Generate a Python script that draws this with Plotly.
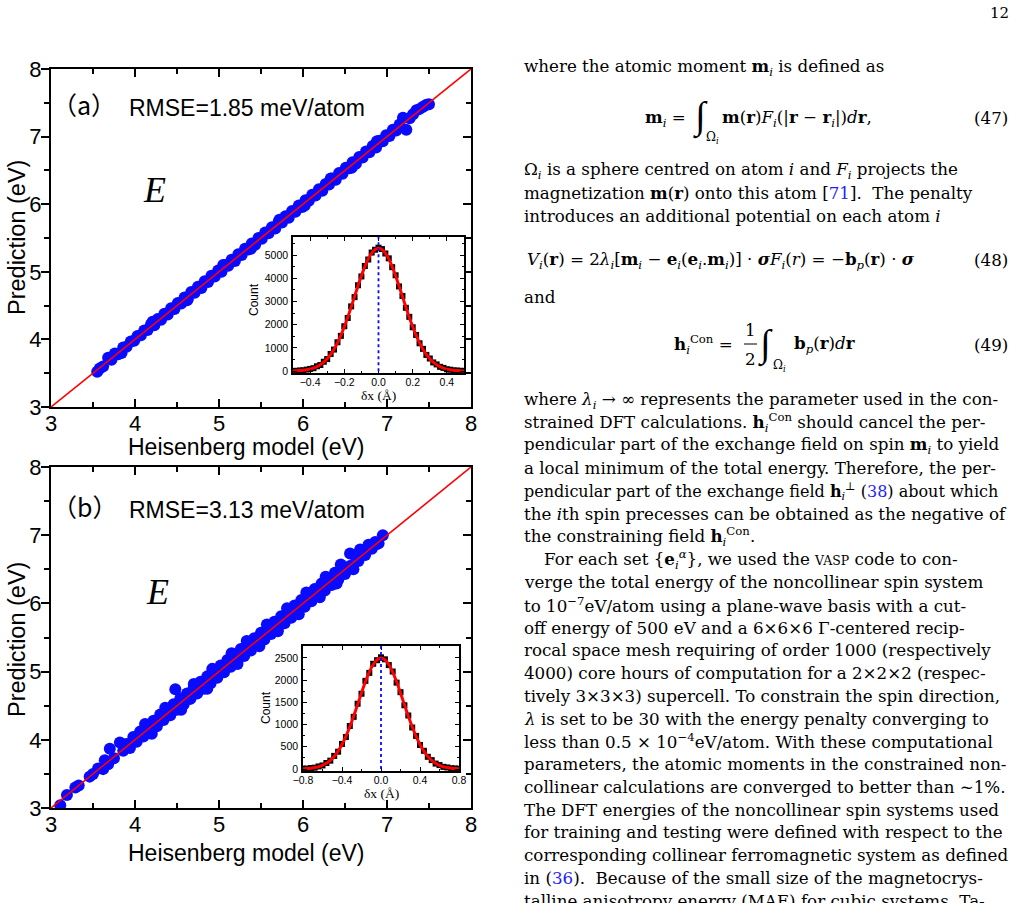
import plotly.graph_objects as go

W, H = 1019, 903

# ---------------- data ----------------
heis_a = [3.55,3.58,3.62,3.68,3.72,3.76,3.80,3.84,3.86,3.90,3.95,3.99,4.03,4.07,4.11,4.15,4.19,4.23,4.27,4.31,
          4.35,4.39,4.43,4.47,4.51,4.55,4.59,4.63,4.67,4.71,4.75,4.79,4.83,4.87,4.91,4.95,4.99,5.03,5.07,5.11,
          5.15,5.19,5.23,5.27,5.31,5.35,5.39,5.43,5.47,5.51,5.55,5.59,5.63,5.67,5.71,5.75,5.79,5.83,5.87,5.91,
          5.95,5.99,6.03,6.07,6.11,6.15,6.19,6.23,6.27,6.31,6.35,6.39,6.43,6.47,6.51,6.55,6.59,6.63,6.67,6.71,
          6.75,6.79,6.83,6.87,6.91,6.95,6.99,7.03,7.07,7.11,7.15,7.19,7.23,7.27,7.31,7.35,7.39,7.43,7.47,7.50,
          4.21,4.62,5.05,5.38,5.72,6.02,6.33,6.58,6.88]
pred_a = [3.52,3.57,3.60,3.73,3.70,3.79,3.78,3.80,3.88,3.89,3.97,3.98,4.05,4.06,4.13,4.14,4.22,4.21,4.30,4.29,
          4.38,4.37,4.46,4.45,4.54,4.53,4.62,4.60,4.70,4.69,4.78,4.76,4.86,4.85,4.94,4.93,5.02,5.00,5.10,5.09,
          5.18,5.16,5.26,5.25,5.34,5.33,5.42,5.40,5.50,5.49,5.58,5.57,5.66,5.64,5.74,5.73,5.82,5.80,5.90,5.89,
          5.98,5.96,6.06,6.05,6.14,6.13,6.22,6.20,6.30,6.29,6.38,6.36,6.46,6.45,6.54,6.53,6.62,6.60,6.70,6.69,
          6.78,6.77,6.86,6.84,6.94,6.93,7.02,7.01,7.10,7.09,7.18,7.28,7.10,7.27,7.33,7.39,7.41,7.44,7.47,7.48,
          4.26,4.58,5.10,5.34,5.77,5.98,6.38,6.54,6.93]

heis_b = [3.11,3.19,3.29,3.33,3.46,3.50,3.56,3.62,3.64,3.68,3.70,3.75,3.82,3.86,3.90,3.94,3.98,4.02,4.06,4.10,
          4.14,4.18,4.22,4.26,4.30,4.34,4.38,4.42,4.46,4.48,4.50,4.54,4.58,4.62,4.66,4.70,4.74,4.78,4.82,4.86,
          4.90,4.94,4.98,5.02,5.06,5.10,5.14,5.18,5.22,5.26,5.30,5.34,5.38,5.42,5.46,5.50,5.54,5.58,5.62,5.66,
          5.70,5.74,5.78,5.82,5.86,5.90,5.94,5.98,6.02,6.06,6.10,6.14,6.18,6.22,6.26,6.30,6.34,6.38,6.42,6.46,
          6.50,6.56,6.58,6.62,6.66,6.70,6.74,6.78,6.82,6.86,6.90,6.95,
          3.92,4.00,4.08,4.16,4.24,4.32,4.40,4.48,4.56,4.64,4.72,4.80,4.88,4.96,5.04,5.12,5.20,5.28,5.36,5.44,
          5.52,5.60,5.68,5.76,5.84,5.92,6.00,6.08,6.16,6.24,6.32,6.40,6.48,6.56,6.64,6.72,6.80,6.88,
          4.12,4.36,4.70,4.92,5.15,5.33,5.57,5.81,6.04,6.27,6.45,6.68,
          4.20,4.55,4.86,5.22,5.48,5.70,5.95,6.20,6.40,6.60]
pred_b = [3.04,3.19,3.30,3.33,3.46,3.50,3.58,3.57,3.70,3.64,3.87,3.73,3.96,3.84,3.94,3.88,4.04,3.97,4.12,4.05,
          4.20,4.12,4.28,4.20,4.37,4.29,4.44,4.36,4.52,4.74,4.44,4.61,4.52,4.68,4.60,4.77,4.68,4.85,4.75,4.93,
          4.83,5.01,4.91,5.09,4.99,5.17,5.07,5.25,5.15,5.33,5.23,5.41,5.31,5.49,5.39,5.57,5.47,5.65,5.55,5.73,
          5.63,5.81,5.71,5.89,5.79,5.97,5.87,6.05,5.95,6.13,6.03,6.21,6.11,6.29,6.19,6.37,6.27,6.45,6.35,6.53,
          6.43,6.73,6.55,6.70,6.62,6.78,6.71,6.86,6.80,6.90,6.88,7.00,
          3.93,3.99,4.09,4.15,4.25,4.31,4.41,4.47,4.57,4.63,4.73,4.79,4.89,4.95,5.05,5.11,5.21,5.27,5.37,5.43,
          5.53,5.59,5.69,5.75,5.85,5.91,6.01,6.07,6.17,6.23,6.33,6.39,6.49,6.55,6.65,6.71,6.81,6.87,
          4.23,4.47,4.82,5.04,5.27,5.45,5.69,5.93,6.16,6.39,6.57,6.79,
          4.09,4.44,4.75,5.11,5.37,5.59,5.84,6.09,6.29,6.50]

diag = [3, 8]

dx_a = [-0.50,-0.48,-0.46,-0.44,-0.42,-0.40,-0.38,-0.36,-0.34,-0.32,-0.30,-0.28,-0.26,-0.24,-0.22,-0.20,-0.18,
        -0.16,-0.14,-0.12,-0.10,-0.08,-0.06,-0.04,-0.02,0.00,0.02,0.04,0.06,0.08,0.10,0.12,0.14,0.16,0.18,0.20,
        0.22,0.24,0.26,0.28,0.30,0.32,0.34,0.36,0.38,0.40,0.42,0.44,0.46,0.48,0.50]
count_a = [12,10,30,35,66,95,128,210,265,405,520,740,930,1245,1520,1935,2290,2790,3190,3700,4080,4530,4810,5110,5230,
           5320,5260,5070,4860,4480,4130,3650,3240,2730,2340,1890,1560,1200,960,700,545,375,290,185,140,82,62,33,27,13,11]
fit_a = [9,15,24,38,59,89,133,194,278,389,534,717,945,1219,1542,1910,2319,2758,3215,3671,4107,4501,4835,5088,5246,
         5300,5246,5088,4835,4501,4107,3671,3215,2758,2319,1910,1542,1219,945,717,534,389,278,194,133,89,59,38,24,15,9]

dx_b = [-0.80,-0.76,-0.72,-0.68,-0.64,-0.60,-0.56,-0.52,-0.48,-0.44,-0.40,-0.36,-0.32,-0.28,-0.24,-0.20,-0.16,-0.12,
        -0.08,-0.04,0.00,0.04,0.08,0.12,0.16,0.20,0.24,0.28,0.32,0.36,0.40,0.44,0.48,0.52,0.56,0.60,0.64,0.68,0.72,0.76,0.80]
count_b = [8,9,22,30,58,80,135,188,295,390,565,720,968,1175,1470,1695,1985,2165,2370,2450,
           2515,2470,2340,2195,1945,1730,1435,1205,935,745,540,410,275,200,122,88,48,35,17,13,5]
fit_b = [6,11,19,32,52,83,129,194,283,401,551,734,950,1192,1450,1713,1963,2182,2353,2462,
         2500,2462,2353,2182,1963,1713,1450,1192,950,734,551,401,283,194,129,83,52,32,19,11,6]

main_ticks = [3, 4, 5, 6, 7, 8]
inset_a_xticks = [-0.4, -0.2, 0.0, 0.2, 0.4]
inset_a_yticks = [0, 1000, 2000, 3000, 4000, 5000]
inset_b_xticks = [-0.8, -0.4, 0.0, 0.4, 0.8]
inset_b_yticks = [0, 500, 1000, 1500, 2000, 2500]

# ---------------- helpers ----------------
def px_x(p): return p / W
def px_y(p): return 1 - p / H

BLUE = "#0a0aff"
RED = "#ff0000"
SANS = "Liberation Sans, Arial, sans-serif"
SERIF = "DejaVu Serif, serif"
SERIF2 = "Liberation Serif, Times New Roman, serif"

fig = go.Figure()

fig.add_trace(go.Scatter(x=heis_a, y=pred_a, mode="markers", xaxis="x", yaxis="y",
                         marker=dict(color=BLUE, size=12, line=dict(width=0)), showlegend=False))
fig.add_trace(go.Scatter(x=diag, y=diag, mode="lines", xaxis="x", yaxis="y",
                         line=dict(color=RED, width=1.6), showlegend=False))
fig.add_trace(go.Scatter(x=[None], y=[None], xaxis="x", yaxis="y2", showlegend=False))
fig.add_trace(go.Scatter(x=dx_a, y=count_a, mode="markers", xaxis="x2", yaxis="y3",
                         marker=dict(color="black", size=6, symbol="square"), showlegend=False))
fig.add_trace(go.Scatter(x=dx_a, y=fit_a, mode="lines", xaxis="x2", yaxis="y3", line_shape="spline",
                         line=dict(color=RED, width=3), showlegend=False))
fig.add_trace(go.Scatter(x=heis_b, y=pred_b, mode="markers", xaxis="x3", yaxis="y4",
                         marker=dict(color=BLUE, size=12, line=dict(width=0)), showlegend=False))
fig.add_trace(go.Scatter(x=diag, y=diag, mode="lines", xaxis="x3", yaxis="y4",
                         line=dict(color=RED, width=1.6), showlegend=False))
fig.add_trace(go.Scatter(x=[None], y=[None], xaxis="x3", yaxis="y5", showlegend=False))
fig.add_trace(go.Scatter(x=dx_b, y=count_b, mode="markers", xaxis="x4", yaxis="y6",
                         marker=dict(color="black", size=6, symbol="square"), showlegend=False))
fig.add_trace(go.Scatter(x=dx_b, y=fit_b, mode="lines", xaxis="x4", yaxis="y6", line_shape="spline",
                         line=dict(color=RED, width=3), showlegend=False))

common = dict(showgrid=False, zeroline=False, showline=True, linecolor="black", tickcolor="black",
              automargin=False)

def main_x(anchor, dom):
    return dict(common, domain=dom, anchor=anchor, range=[3, 8], tickvals=main_ticks,
                ticks="inside", ticklen=8, tickwidth=1.5, linewidth=2, mirror="ticks",
                minor=dict(dtick=0.5, tick0=3, ticks="inside", ticklen=5, tickwidth=1.5, tickcolor="black"),
                tickfont=dict(family=SANS, size=22, color="black"), ticklabelstandoff=-4)

def main_y(anchor, dom):
    return dict(common, domain=dom, anchor=anchor, range=[3, 8], tickvals=main_ticks,
                ticks="outside", ticklen=8, tickwidth=1.5, linewidth=2, mirror=False,
                minor=dict(dtick=0.5, tick0=3, ticks="outside", ticklen=5, tickwidth=1.5, tickcolor="black"),
                tickfont=dict(family=SANS, size=22, color="black"), ticklabelstandoff=-5)

def right_y(over, anchor):
    return dict(common, overlaying=over, anchor=anchor, side="right", range=[3, 8], tickvals=main_ticks,
                ticks="inside", ticklen=8, tickwidth=1.5, linewidth=2, showticklabels=False,
                minor=dict(dtick=0.5, tick0=3, ticks="inside", ticklen=5, tickwidth=1.5, tickcolor="black"))

def inset_x(anchor, dom, rng, tv, mdt):
    return dict(common, domain=dom, anchor=anchor, range=rng, tickvals=tv, tickformat=".1f",
                ticks="inside", ticklen=4, tickwidth=1, linewidth=1.5, mirror="ticks",
                minor=dict(dtick=mdt, ticks="inside", ticklen=2, tickcolor="black"),
                tickfont=dict(family=SANS, size=10.5, color="black"), ticklabelstandoff=-1)

def inset_y(anchor, dom, rng, tv, mdt):
    return dict(common, domain=dom, anchor=anchor, range=rng, tickvals=tv, tickformat="d",
                ticks="inside", ticklen=4, tickwidth=1, linewidth=1.5, mirror="ticks",
                minor=dict(dtick=mdt, tick0=0, ticks="inside", ticklen=2, tickcolor="black"),
                tickfont=dict(family=SANS, size=10.5, color="black"), ticklabelstandoff=1)

dom_xa = [px_x(51), px_x(471)]
dom_ya = [px_y(407), px_y(69)]
dom_yb = [px_y(808), px_y(467)]

fig.update_layout(
    width=W, height=H, margin=dict(l=0, r=0, t=0, b=0, pad=0, autoexpand=False),
    paper_bgcolor="white", plot_bgcolor="white", showlegend=False,
    xaxis=main_x("y", dom_xa),
    yaxis=main_y("x", dom_ya),
    yaxis2=right_y("y", "x"),
    xaxis2=inset_x("y3", [px_x(293), px_x(464)], [-0.5, 0.5], inset_a_xticks, 0.1),
    yaxis3=inset_y("x2", [px_y(373), px_y(237)], [-80, 5780], inset_a_yticks, 500),
    xaxis3=main_x("y4", dom_xa),
    yaxis4=main_y("x3", dom_yb),
    yaxis5=right_y("y4", "x3"),
    xaxis4=inset_x("y6", [px_x(303), px_x(459)], [-0.8, 0.8], inset_b_xticks, 0.2),
    yaxis6=inset_y("x4", [px_y(771), px_y(646)], [-45, 2770], inset_b_yticks, 250),
)

fig.add_shape(type="line", xref="x2", yref="y3", x0=0, x1=0, y0=0, y1=5780,
              line=dict(color=BLUE, width=1.8, dash="dot"))
fig.add_shape(type="line", xref="x4", yref="y6", x0=0, x1=0, y0=0, y1=2770,
              line=dict(color=BLUE, width=1.8, dash="dot"))

anns = []
def ann(text, x, y, size, family=SERIF, xa="left", ya="middle", angle=0, color="black"):
    anns.append(dict(text=text, x=px_x(x), y=px_y(y), xref="paper", yref="paper",
                     xanchor=xa, yanchor=ya, showarrow=False, textangle=angle,
                     font=dict(family=family, size=size, color=color)))

for (lab, rm, yo, ty) in [("（a）", "RMSE=1.85 meV/atom", 0, 447), ("（b）", "RMSE=3.13 meV/atom", 402, 853)]:
    ann(lab, 84, 104 + yo, 25, family="Noto Sans CJK SC, " + SANS, xa="center")
    ann(rm, 127, 108 + yo, 23, family=SANS)
    ann("<i>E</i>", 154 + (yo and 3), 190 + yo, 36, family=SERIF2, xa="center")
    ann("Prediction (eV)", 17, 238 + yo, 23.5, family=SANS, xa="center", angle=-90)
    ann("Heisenberg model (eV)", 246, ty, 23, family=SANS, xa="center")

ann("Count", 254, 300, 12, family=SANS, xa="center", angle=-90)
ann("δx (Å)", 378, 395, 13.5, family=SERIF2, xa="center")
ann("Count", 266, 708, 12, family=SANS, xa="center", angle=-90)
ann("δx (Å)", 381, 793, 13.5, family=SERIF2, xa="center")

# right column text
FS = 16.7
ann("12", 1011, 13, 15)
anns[-1]["xanchor"] = "right"
L = 522
LINK = "#1f1fff"
def lk(t): return "<span style='color:%s'>%s</span>" % (LINK, t)
mi = "<b>m</b><sub><i>i</i></sub>"
hcon = "<b>h</b><sub><i>i</i></sub><sup>Con</sup>"

ann("where the atomic moment " + mi + " is defined as", L, 67, FS)
ann(mi + " =", 688, 118, FS, xa="right")
ann("∫", 700, 117, 38, family=SERIF2, xa="center")
ann("Ω<sub><i>i</i></sub>", 704, 138, 12)
ann("<b>m</b>(<b>r</b>)<i>F<sub>i</sub></i>(|<b>r</b> − <b>r</b><sub><i>i</i></sub>|)<i>d</i><b>r</b>,", 720, 118, FS)
ann("(47)", 1010, 118, FS, xa="right")

ann("Ω<sub><i>i</i></sub> is a sphere centred on atom <i>i</i> and <i>F<sub>i</sub></i> projects the", L, 170, FS)
ann("magnetization <b>m</b>(<b>r</b>) onto this atom [" + lk("71") + "].  The penalty", L, 193, FS)
ann("introduces an additional potential on each atom <i>i</i>", L, 216, FS)
ann("<i>V<sub>i</sub></i>(<b>r</b>) = 2<i>λ<sub>i</sub></i>[" + mi + " − <b>e</b><sub><i>i</i></sub>(<b>e</b><sub><i>i</i></sub>." + mi +
    ")] · <b><i>σ</i></b><i>F<sub>i</sub></i>(<i>r</i>) = −<b>b</b><sub><i>p</i></sub>(<b>r</b>) · <b><i>σ</i></b>", 525, 260, FS)
ann("(48)", 1010, 260, FS, xa="right")
ann("and", L, 297, FS)
ann(hcon + " =", 735, 345, FS, xa="right")
ann("1", 750, 330, FS, xa="center")
ann("2", 750, 359, FS, xa="center")
ann("∫", 765, 345, 38, family=SERIF2, xa="center")
ann("Ω<sub><i>i</i></sub>", 771, 366, 12)
ann("<b>b</b><sub><i>p</i></sub>(<b>r</b>)<i>d</i><b>r</b>", 792, 345, FS)
ann("(49)", 1010, 345, FS, xa="right")
fig.add_shape(type="line", xref="paper", yref="paper", x0=px_x(744), x1=px_x(757), y0=px_y(344), y1=px_y(344),
              line=dict(color="black", width=1))

body = [
    ("where <i>λ<sub>i</sub></i> → ∞ represents the parameter used in the con-", L, FS),
    ("strained DFT calculations. " + hcon + " should cancel the per-", L, FS),
    ("pendicular part of the exchange field on spin " + mi + " to yield", L, FS),
    ("a local minimum of the total energy. Therefore, the per-", L, FS),
    ("pendicular part of the exchange field <b>h</b><sub><i>i</i></sub><sup>⊥</sup> (" + lk("38") + ") about which", L, 16),
    ("the <i>i</i>th spin precesses can be obtained as the negative of", L, FS),
    ("the constraining field " + hcon + ".", L, FS),
    ("For each set {<b>e</b><sub><i>i</i></sub><sup><i>α</i></sup>}, we used the <span style='font-size:12.5px'>VASP</span> code to con-", L + 20, FS),
    ("verge the total energy of the noncollinear spin system", L, FS),
    ("to 10<sup>−7</sup>eV/atom using a plane-wave basis with a cut-", L, FS),
    ("off energy of 500 eV and a 6×6×6 Γ-centered recip-", L, FS),
    ("rocal space mesh requiring of order 1000 (respectively", L, FS),
    ("4000) core hours of computation for a 2×2×2 (respec-", L, FS),
    ("tively 3×3×3) supercell. To constrain the spin direction,", L, FS),
    ("<i>λ</i> is set to be 30 with the energy penalty converging to", L, FS),
    ("less than 0.5 × 10<sup>−4</sup>eV/atom. With these computational", L, FS),
    ("parameters, the atomic moments in the constrained non-", L, FS),
    ("collinear calculations are converged to better than ∼1%.", L, FS),
    ("The DFT energies of the noncollinear spin systems used", L, FS),
    ("for training and testing were defined with respect to the", L, FS),
    ("corresponding collinear ferromagnetic system as defined", L, FS),
    ("in (" + lk("36") + ").  Because of the small size of the magnetocrys-", L, FS),
    ("talline anisotropy energy (MAE) for cubic systems. Ta-", L, FS),
]
for i, (t, x0, fs) in enumerate(body):
    ann(t, x0, 400 + 22.75 * i, fs)

fig.update_layout(annotations=anns)
fig.write_html("out.html")
